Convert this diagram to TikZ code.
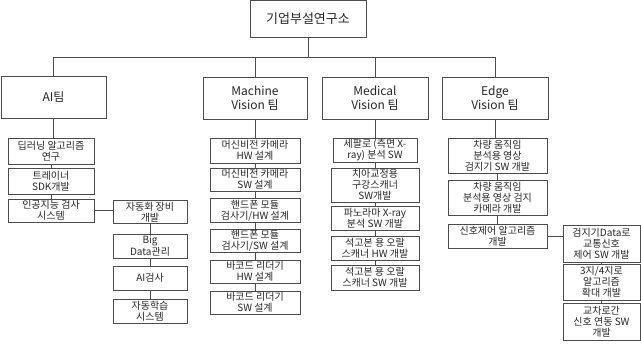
\documentclass[tikz,border=0pt]{standalone}
\usepackage{fontspec}
\setmainfont{Noto Sans CJK KR}
\begin{document}
\begin{tikzpicture}[
	x=1pt, y=-1pt,
	box/.style = {rectangle, draw=black!70, line width=0.9pt, text=black!85, align=center, inner sep=1pt},
	root/.style = {box, minimum width=116, minimum height=37, font=\fontsize{13}{16}\selectfont},
	team/.style = {box, minimum height=42, font=\fontsize{12}{14.5}\selectfont},
	task/.style = {box, font=\fontsize{10}{11.2}\selectfont},
	l/.style = {draw=black!70, line width=0.9pt}
	]
	\useasboundingbox (0,0) rectangle (641,347);

	%Nodes
	\node[root]	(top)	at	(308, 18.5)	{기업부설연구소};
	\coordinate	(bus)	at	(0, 57);

	\node[team, minimum width=105]	(ai)	at	(53.5, 97)	{AI팀};
	\node[team, minimum width=104]	(mv)	at	(255, 98)	{Machine\\Vision 팀};
	\node[team, minimum width=106]	(med)	at	(375, 98)	{Medical\\Vision 팀};
	\node[team, minimum width=106]	(edge)	at	(495, 98)	{Edge\\Vision 팀};

	\node[task, minimum width=86, minimum height=26]	(ai1)	at	(51, 151)	{딥러닝 알고리즘\\연구};
	\node[task, minimum width=86, minimum height=26]	(ai2)	at	(51, 181)	{트레이너\\SDK개발};
	\node[task, minimum width=86, minimum height=23]	(ai3)	at	(51, 210.5)	{인공지능 검사\\시스템};

	\node[task, minimum width=74, minimum height=23]	(auto)	at	(150, 212)	{자동화 장비\\개발};
	\node[task, minimum width=74, minimum height=24]	(big)	at	(150, 246)	{Big\\Data관리};
	\node[task, minimum width=74, minimum height=24]	(aichk)	at	(150, 278)	{AI검사};
	\node[task, minimum width=74, minimum height=24]	(learn)	at	(150, 311)	{자동학습\\시스템};

	\node[task, minimum width=90, minimum height=25]	(mv1)	at	(255, 150.5)	{머신비전 카메라\\HW 설계};
	\node[task, minimum width=90, minimum height=23]	(mv2)	at	(255, 179.5)	{머신비전 카메라\\SW 설계};
	\node[task, minimum width=90, minimum height=23]	(mv3)	at	(255, 210.5)	{핸드폰 모듈\\검사기/HW 설계};
	\node[task, minimum width=90, minimum height=23]	(mv4)	at	(255, 241)	{핸드폰 모듈\\검사기/SW 설계};
	\node[task, minimum width=90, minimum height=23]	(mv5)	at	(255, 271.5)	{바코드 리더기\\HW 설계};
	\node[task, minimum width=90, minimum height=23]	(mv6)	at	(255, 302.5)	{바코드 리더기\\SW 설계};

	\node[task, minimum width=84, minimum height=24]	(med1)	at	(375, 150)	{세팔로 (측면 X-\\ray) 분석 SW};
	\node[task, minimum width=88, minimum height=34]	(med2)	at	(375, 185)	{치아교정용\\구강스캐너\\SW개발};
	\node[task, minimum width=88, minimum height=24]	(med3)	at	(375, 218)	{파노라마 X-ray\\분석 SW 개발};
	\node[task, minimum width=88, minimum height=24]	(med4)	at	(375, 248)	{석고본 용 오랄\\스캐너 HW 개발};
	\node[task, minimum width=88, minimum height=25]	(med5)	at	(375, 277.5)	{석고본 용 오랄\\스캐너 SW 개발};

	\node[task, minimum width=99, minimum height=35]	(ed1)	at	(497.5, 155.5)	{차량 움직임\\분석용 영상\\검지기 SW 개발};
	\node[task, minimum width=99, minimum height=35]	(ed2)	at	(497.5, 197.5)	{차량 움직임\\분석용 영상 검지\\카메라 개발};
	\node[task, minimum width=99, minimum height=24]	(ed3)	at	(497.5, 236)	{신호제어 알고리즘\\개발};

	\node[task, minimum width=77, minimum height=37]	(sg1)	at	(601.5, 243.5)	{검지기Data로\\교통신호\\제어 SW 개발};
	\node[task, minimum width=77, minimum height=36]	(sg2)	at	(601.5, 282)	{3지/4지로\\알고리즘\\확대 개발};
	\node[task, minimum width=77, minimum height=37]	(sg3)	at	(601.5, 321.5)	{교차로간\\신호 연동 SW\\개발};

	%Lines
	\draw[l]	(top.south)	--	(top.south |- bus);
	\draw[l]	(ai.north)	--	(ai.north |- bus)	--	(edge.north |- bus)	--	(edge.north);
	\draw[l]	(mv.north)	--	(mv.north |- bus);
	\draw[l]	(med.north)	--	(med.north |- bus);

	\draw[l]	(ai.south)	--	(ai.south |- ai1.north);
	\draw[l]	(ai1)	--	(ai2);
	\draw[l]	(ai2)	--	(ai3);
	\draw[l]	(ai3.east)	--	(ai3.east -| auto.west);
	\draw[l]	(auto)	--	(big);
	\draw[l]	(big)	--	(aichk);
	\draw[l]	(aichk)	--	(learn);

	\draw[l]	(mv)	--	(mv1);
	\draw[l]	(mv1)	--	(mv2);
	\draw[l]	(mv2)	--	(mv3);
	\draw[l]	(mv3)	--	(mv4);
	\draw[l]	(mv4)	--	(mv5);
	\draw[l]	(mv5)	--	(mv6);

	\draw[l]	(med)	--	(med1);
	\draw[l]	(med1)	--	(med2);
	\draw[l]	(med2)	--	(med3);
	\draw[l]	(med3)	--	(med4);
	\draw[l]	(med4)	--	(med5);

	\draw[l]	(edge.south)	--	(edge.south |- ed1.north);
	\draw[l]	(ed1)	--	(ed2);
	\draw[l]	(ed2)	--	(ed3);
	\draw[l]	(ed3.east)	--	(ed3.east -| sg1.west);
	\draw[l]	(sg1)	--	(sg2);
	\draw[l]	(sg2)	--	(sg3);
\end{tikzpicture}
\end{document}
